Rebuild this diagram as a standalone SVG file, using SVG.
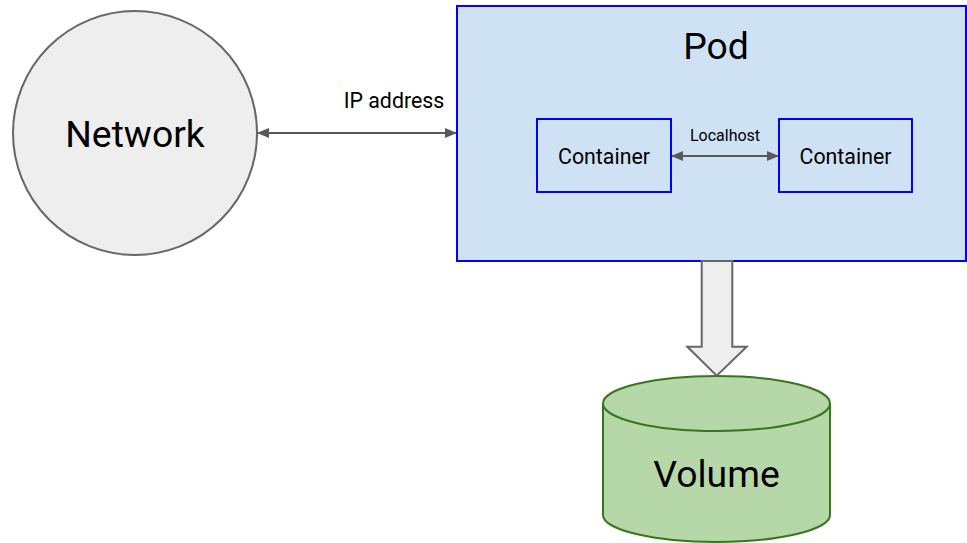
<svg xmlns="http://www.w3.org/2000/svg" width="967" height="543" viewBox="0 0 967 543">
  <style>
    text { font-family: Roboto, "Liberation Sans", sans-serif; fill: #000000; text-anchor: middle; }
    .big { font-size: 37.33px; }
    .mid { font-size: 21.33px; }
    .small { font-size: 16px; }
    .box { fill: #cfe2f3; stroke: #0000ff; stroke-width: 2; }
    .link { fill: none; stroke: #595959; stroke-width: 2; }
  </style>
  <defs>
    <marker id="head" viewBox="0 0 12 10" refX="11" refY="5" markerWidth="12" markerHeight="10" markerUnits="userSpaceOnUse" orient="auto-start-reverse">
      <path d="M0,0 L12,5 L0,10 Z" fill="#595959"/>
    </marker>
  </defs>
  <rect width="967" height="543" fill="#ffffff"/>

  <g id="network">
    <circle cx="135" cy="133" r="122" fill="#eeeeee" stroke="#666666" stroke-width="2"/>
    <text class="big" x="135" y="147">Network</text>
  </g>

  <g id="pod">
    <rect class="box" x="457" y="6" width="509" height="255"/>
    <text class="big" x="716" y="59">Pod</text>
  </g>

  <g id="container-left">
    <rect class="box" x="537" y="119" width="134" height="73"/>
    <text class="mid" x="604" y="164">Container</text>
  </g>

  <g id="container-right">
    <rect class="box" x="779" y="119" width="133" height="73"/>
    <text class="mid" x="845.5" y="164">Container</text>
  </g>

  <g id="volume">
    <path d="M603,403.5 L603,515 A113.5,27 0 0 0 830,515 L830,403.5" fill="#b6d7a8" stroke="#38761d" stroke-width="2"/>
    <ellipse cx="716.5" cy="403.5" rx="113.5" ry="27.5" fill="#b6d7a8" stroke="#38761d" stroke-width="2"/>
    <text class="big" x="716.5" y="487">Volume</text>
  </g>

  <g id="connectors">
    <line class="link" x1="258" y1="133" x2="456" y2="133" marker-start="url(#head)" marker-end="url(#head)"/>
    <text class="mid" x="394" y="108">IP address</text>
    <line class="link" x1="672" y1="156" x2="778" y2="156" marker-start="url(#head)" marker-end="url(#head)"/>
    <text class="small" x="725" y="141">Localhost</text>
    <path d="M701.7,261 L732.3,261 L732.3,346.7 L746.7,346.7 L716.7,375.7 L687.3,346.7 L701.7,346.7 Z" fill="#eeeeee" stroke="#666666" stroke-width="2" stroke-linejoin="miter"/>
  </g>
</svg>
